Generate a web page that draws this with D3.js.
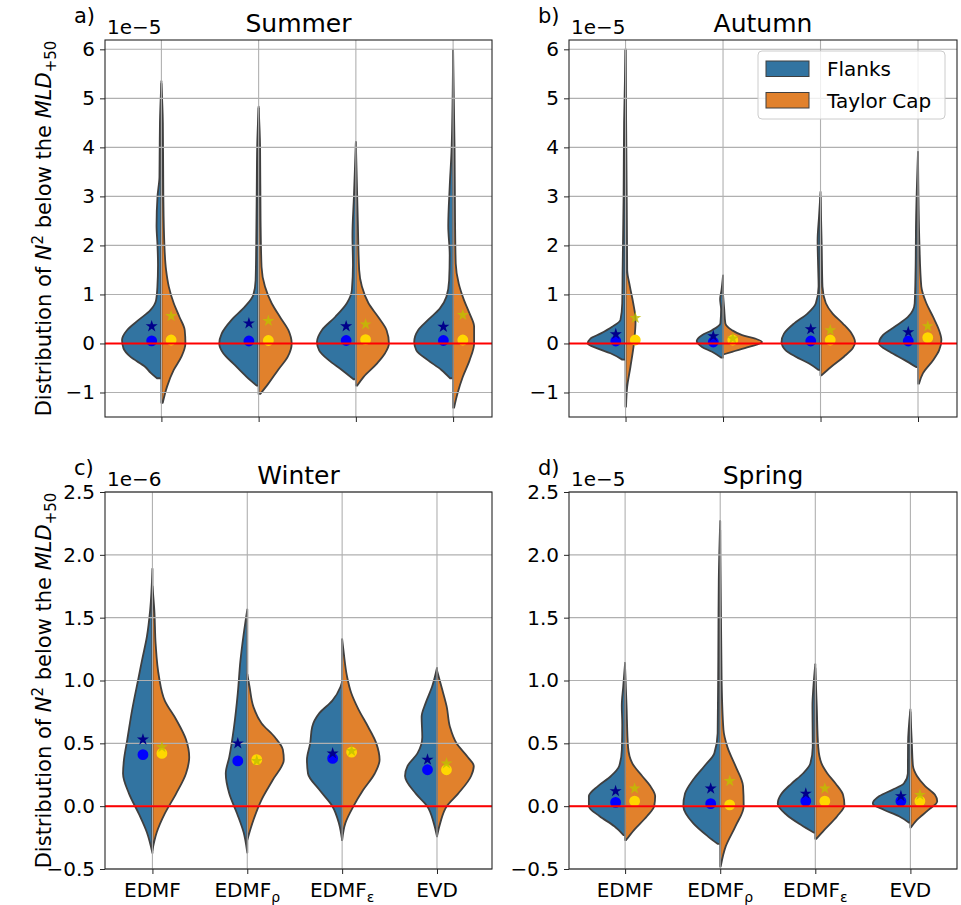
<!DOCTYPE html>
<html>
<head>
<meta charset="utf-8">
<script src="https://cdn.jsdelivr.net/npm/d3@7"></script>
<style>
  body { margin: 0; background: #fff; }
  text { font-family: "DejaVu Sans", sans-serif; fill: #000; }
</style>
</head>
<body>
<script>
var width = 961,
    height = 905;

// categories and groups
var categories = ["EDMF", "EDMF_ρ", "EDMF_ε", "EVD"];
var groups = ["Flanks", "Taylor Cap"];
var groupColors = ["#3274a1", "#e1812c"];

// y ticks (in units of the offset)
var ticksTop = [-1, 0, 1, 2, 3, 4, 5, 6];
var ticksBottom = [-0.5, 0, 0.5, 1, 1.5, 2, 2.5];

// violin profiles : [value, half width (category units)], bottom -> top
var summerFlanks = [
  [[-0.71,0.045],[-0.6,0.11],[-0.48,0.165],[-0.27,0.32],[-0.1,0.39],[0.07,0.405],[0.27,0.354],[0.48,0.234],[0.68,0.113],[0.88,0.055],[1.16,0.041],[1.6,0.035],[2.0,0.04],[2.4,0.05],[3.0,0.04],[3.4,0.02],[4.5,0.015],[5.35,0]],
  [[-0.86,0.02],[-0.68,0.124],[-0.41,0.26],[-0.2,0.364],[0,0.405],[0.2,0.38],[0.48,0.278],[0.75,0.141],[0.99,0.055],[1.29,0.031],[2.0,0.025],[3.0,0.02],[4.0,0.015],[4.83,0]],
  [[-0.73,0.024],[-0.54,0.144],[-0.34,0.28],[-0.14,0.378],[0.03,0.4],[0.27,0.35],[0.54,0.213],[0.82,0.093],[1.09,0.041],[1.6,0.03],[2.2,0.035],[3.0,0.02],[4.11,0]],
  [[-0.71,0.03],[-0.54,0.12],[-0.34,0.26],[-0.14,0.378],[0.03,0.4],[0.27,0.36],[0.48,0.258],[0.71,0.137],[0.95,0.069],[1.29,0.041],[1.8,0.035],[2.4,0.05],[3.2,0.035],[4.0,0.015],[5.99,0]]
];
var summerCap = [
  [[-1.21,0.014],[-0.88,0.058],[-0.54,0.127],[-0.27,0.206],[0,0.247],[0.27,0.24],[0.54,0.186],[0.82,0.127],[1.16,0.076],[1.5,0.048],[2.0,0.031],[3.0,0.02],[4.5,0.015],[5.3,0]],
  [[-1.03,0.017],[-0.82,0.1],[-0.54,0.2],[-0.27,0.3],[0,0.34],[0.27,0.306],[0.54,0.22],[0.82,0.134],[1.16,0.065],[1.56,0.03],[2.5,0.02],[4.0,0.015],[4.8,0]],
  [[-0.86,0.014],[-0.68,0.08],[-0.41,0.216],[-0.2,0.3],[0,0.34],[0.27,0.316],[0.54,0.23],[0.82,0.13],[1.16,0.062],[1.5,0.034],[2.5,0.02],[4.1,0]],
  [[-1.31,0.01],[-1.02,0.045],[-0.68,0.1],[-0.34,0.17],[0,0.216],[0.34,0.216],[0.61,0.17],[0.88,0.113],[1.22,0.058],[1.63,0.027],[2.5,0.02],[4.0,0.015],[5.97,0]]
];
var autumnFlanks = [
  [[-0.33,0.034],[-0.2,0.155],[-0.1,0.29],[0,0.388],[0.1,0.36],[0.2,0.258],[0.34,0.137],[0.48,0.052],[0.82,0.034],[1.5,0.03],[3.0,0.02],[4.5,0.015],[6.0,0]],
  [[-0.29,0.017],[-0.17,0.113],[-0.07,0.216],[0.05,0.27],[0.17,0.216],[0.27,0.113],[0.41,0.027],[0.7,0.02],[0.9,0.03],[1.1,0.015],[1.39,0]],
  [[-0.54,0.02],[-0.41,0.117],[-0.27,0.254],[-0.14,0.357],[0.03,0.4],[0.2,0.375],[0.41,0.27],[0.61,0.134],[0.82,0.048],[1.16,0.02],[1.6,0.025],[2.1,0.03],[2.6,0.015],[3.09,0]],
  [[-0.48,0.02],[-0.34,0.137],[-0.17,0.29],[0,0.4],[0.17,0.36],[0.34,0.24],[0.54,0.103],[0.82,0.034],[1.5,0.025],[2.5,0.02],[3.91,0]]
];
var autumnCap = [
  [[-1.29,0.005],[-0.88,0.017],[-0.48,0.05],[0,0.086],[0.48,0.103],[0.82,0.079],[1.16,0.045],[1.5,0.017],[3.0,0.012],[6.0,0]],
  [[-0.22,0.01],[-0.17,0.093],[-0.07,0.265],[0.03,0.4],[0.1,0.33],[0.17,0.196],[0.27,0.093],[0.41,0.024],[0.7,0.012],[1.0,0]],
  [[-0.65,0.01],[-0.48,0.107],[-0.27,0.24],[-0.1,0.33],[0.03,0.354],[0.2,0.32],[0.41,0.227],[0.61,0.124],[0.82,0.055],[1.16,0.02],[2.0,0.012],[3.0,0]],
  [[-0.82,0.01],[-0.61,0.05],[-0.34,0.155],[-0.14,0.216],[0.07,0.24],[0.27,0.216],[0.54,0.155],[0.82,0.086],[1.16,0.034],[2.0,0.015],[3.9,0]]
];
var winterFlanks = [
  [[-0.373,0],[-0.21,0.058],[-0.06,0.144],[0.1,0.247],[0.26,0.31],[0.37,0.30],[0.53,0.265],[0.77,0.213],[1.03,0.144],[1.16,0.11],[1.35,0.058],[1.56,0.024],[1.89,0]],
  [[-0.37,0],[-0.21,0.038],[-0.06,0.107],[0.1,0.19],[0.26,0.227],[0.39,0.19],[0.63,0.14],[0.9,0.1],[1.16,0.072],[1.37,0.038],[1.565,0]],
  [[-0.27,0],[-0.135,0.034],[0,0.103],[0.13,0.24],[0.26,0.36],[0.37,0.371],[0.5,0.337],[0.63,0.316],[0.74,0.24],[0.84,0.103],[0.95,0.017],[0.99,0]],
  [[-0.24,0],[-0.135,0.034],[0,0.103],[0.1,0.223],[0.24,0.337],[0.32,0.31],[0.42,0.206],[0.55,0.155],[0.71,0.162],[0.82,0.12],[0.95,0.052],[1.1,0]]
];
var winterCap = [
  [[-0.35,0],[-0.21,0.045],[-0.06,0.13],[0.1,0.25],[0.26,0.354],[0.39,0.388],[0.53,0.354],[0.69,0.25],[0.84,0.13],[1.03,0.069],[1.29,0.034],[1.56,0.02],[1.75,0]],
  [[-0.27,0],[-0.11,0.065],[0.05,0.15],[0.21,0.27],[0.37,0.385],[0.45,0.375],[0.55,0.289],[0.66,0.15],[0.79,0.065],[0.95,0.024],[1.05,0]],
  [[-0.27,0],[-0.135,0.034],[0,0.12],[0.13,0.223],[0.26,0.344],[0.37,0.395],[0.5,0.36],[0.63,0.275],[0.77,0.172],[0.9,0.096],[1.03,0.052],[1.22,0.017],[1.33,0]],
  [[-0.24,0],[-0.135,0.034],[0,0.103],[0.1,0.223],[0.24,0.36],[0.32,0.388],[0.39,0.326],[0.5,0.206],[0.63,0.137],[0.79,0.103],[0.92,0.058],[1.08,0]]
];
var springFlanks = [
  [[-0.23,0.017],[-0.16,0.113],[-0.08,0.268],[0,0.381],[0.08,0.381],[0.16,0.285],[0.24,0.148],[0.32,0.062],[0.45,0.034],[0.65,0.03],[0.8,0.035],[0.95,0.02],[1.14,0]],
  [[-0.3,0.027],[-0.24,0.13],[-0.135,0.285],[0,0.388],[0.1,0.37],[0.21,0.285],[0.32,0.165],[0.42,0.062],[0.58,0.027],[1.2,0.02],[1.8,0.015],[2.27,0]],
  [[-0.21,0.017],[-0.15,0.148],[-0.07,0.3],[0.02,0.395],[0.1,0.354],[0.18,0.25],[0.26,0.13],[0.34,0.052],[0.47,0.027],[0.8,0.03],[0.95,0.02],[1.13,0]],
  [[-0.13,0.017],[-0.08,0.12],[-0.03,0.275],[0.02,0.395],[0.08,0.326],[0.13,0.19],[0.18,0.069],[0.26,0.027],[0.5,0.025],[0.77,0]]
];
var springCap = [
  [[-0.27,0.01],[-0.19,0.093],[-0.08,0.23],[0,0.306],[0.08,0.316],[0.16,0.265],[0.24,0.179],[0.34,0.076],[0.47,0.031],[0.8,0.015],[1.1,0]],
  [[-0.48,0.005],[-0.32,0.058],[-0.16,0.16],[0,0.247],[0.16,0.24],[0.32,0.16],[0.47,0.076],[0.61,0.034],[1.0,0.015],[2.2,0]],
  [[-0.26,0.01],[-0.19,0.093],[-0.08,0.23],[0.01,0.306],[0.09,0.292],[0.18,0.213],[0.26,0.127],[0.34,0.065],[0.47,0.031],[0.8,0.015],[1.1,0]],
  [[-0.17,0.005],[-0.11,0.069],[-0.03,0.19],[0.04,0.282],[0.09,0.258],[0.16,0.155],[0.24,0.069],[0.32,0.027],[0.5,0.015],[0.75,0]]
];

// markers (circle / star) per category
var summerFlankDot = [0.054, 0.05, 0.06, 0.06];
var summerFlankStar = [0.35, 0.41, 0.35, 0.34];
var summerCapDot = [0.07, 0.06, 0.08, 0.07];
var summerCapStar = [0.56, 0.46, 0.39, 0.58];
var autumnFlankDot = [0.05, 0.03, 0.05, 0.05];
var autumnFlankStar = [0.19, 0.15, 0.29, 0.23];
var autumnCapDot = [0.07, 0.07, 0.07, 0.12];
var autumnCapStar = [0.52, 0.1, 0.27, 0.35];
var winterFlankDot = [0.41, 0.36, 0.38, 0.29];
var winterFlankStar = [0.53, 0.5, 0.42, 0.37];
var winterCapDot = [0.42, 0.37, 0.43, 0.29];
var winterCapStar = [0.47, 0.36, 0.44, 0.34];
var springFlankDot = [0.03, 0.02, 0.04, 0.04];
var springFlankStar = [0.12, 0.14, 0.1, 0.08];
var springCapDot = [0.04, 0.01, 0.04, 0.04];
var springCapStar = [0.14, 0.2, 0.14, 0.09];

var panels = [
  {letter: "a)", title: "Summer", offset: "1e\u22125", flanks: summerFlanks, cap: summerCap,
   fDot: summerFlankDot, fStar: summerFlankStar, cDot: summerCapDot, cStar: summerCapStar,
   x0: 105, x1: 492, y0: 40, y1: 417, xdom: [-0.58, 3.4], ydom: [-1.5, 6.19], ticks: ticksTop, fmt: d3.format("d"), labels: false, ylab: true},
  {letter: "b)", title: "Autumn", offset: "1e\u22125", flanks: autumnFlanks, cap: autumnCap,
   fDot: autumnFlankDot, fStar: autumnFlankStar, cDot: autumnCapDot, cStar: autumnCapStar,
   x0: 569, x1: 957, y0: 40, y1: 417, xdom: [-0.58, 3.4], ydom: [-1.5, 6.19], ticks: ticksTop, fmt: d3.format("d"), labels: false, ylab: false, legend: true},
  {letter: "c)", title: "Winter", offset: "1e\u22126", flanks: winterFlanks, cap: winterCap,
   fDot: winterFlankDot, fStar: winterFlankStar, cDot: winterCapDot, cStar: winterCapStar,
   x0: 105, x1: 492, y0: 492, y1: 869, xdom: [-0.5, 3.58], ydom: [-0.5, 2.5], ticks: ticksBottom, fmt: d3.format(".1f"), labels: true, ylab: true},
  {letter: "d)", title: "Spring", offset: "1e\u22125", flanks: springFlanks, cap: springCap,
   fDot: springFlankDot, fStar: springFlankStar, cDot: springCapDot, cStar: springCapStar,
   x0: 569, x1: 957, y0: 492, y1: 869, xdom: [-0.59, 3.49], ydom: [-0.5, 2.5], ticks: ticksBottom, fmt: d3.format(".1f"), labels: true, ylab: false}
];

var svg = d3.select("body").append("svg")
    .attr("width", width)
    .attr("height", height);

var star = d3.symbol().type(d3.symbolStar).size(45);
var circle = d3.symbol().type(d3.symbolCircle).size(92);

function minus(s) { return s.replace("-", "\u2212"); }

panels.forEach(function (p) {
    var g = svg.append("g");
    var x = d3.scaleLinear().domain(p.xdom).range([p.x0, p.x1]);
    var y = d3.scaleLinear().domain(p.ydom).range([p.y1, p.y0]);

    g.append("rect").attr("x", p.x0).attr("y", p.y0)
        .attr("width", p.x1 - p.x0).attr("height", p.y1 - p.y0).attr("fill", "#fff");

    // violins
    var line = d3.line().curve(d3.curveMonotoneY);
    [p.flanks, p.cap].forEach(function (series, k) {
        var side = k == 0 ? -1 : 1;
        series.forEach(function (prof, i) {
            var pts = prof.map(function (d) { return [x(i + side * d[1]), y(d[0])]; });
            var path = "M" + x(i) + "," + y(prof[0][0]) + "L" + line(pts).slice(1) +
                "L" + x(i) + "," + y(prof[prof.length - 1][0]) + "Z";
            g.append("path").attr("d", path)
                .attr("fill", groupColors[k])
                .attr("stroke", "#3f3f3f")
                .attr("stroke-width", 1.8)
                .attr("stroke-linejoin", "round");
        });
    });

    // grid (drawn above the violins like matplotlib)
    g.selectAll(".gy").data(p.ticks).join("line")
        .attr("x1", p.x0).attr("x2", p.x1)
        .attr("y1", d => y(d)).attr("y2", d => y(d))
        .attr("stroke", "#b0b0b0").attr("stroke-width", 1.1);
    g.selectAll(".gx").data(categories).join("line")
        .attr("x1", (d, i) => x(i)).attr("x2", (d, i) => x(i))
        .attr("y1", p.y0).attr("y2", p.y1)
        .attr("stroke", "#b0b0b0").attr("stroke-width", 1.1);

    // markers
    function dots(vals, dx, col, sym, op) {
        g.selectAll(null).data(vals).join("path")
            .attr("d", sym)
            .attr("transform", (d, i) => "translate(" + x(i + dx) + "," + y(d) + ")")
            .attr("fill", col).attr("fill-opacity", op);
    }
    dots(p.fDot, -0.1, "#0000ff", circle, 1);
    dots(p.cDot, 0.1, "#ffd700", circle, 1);
    dots(p.fStar, -0.1, "#00008b", star, 1);
    dots(p.cStar, 0.1, "#bfbf00", star, 0.8);

    // zero line
    g.append("line").attr("x1", p.x0).attr("x2", p.x1)
        .attr("y1", y(0)).attr("y2", y(0))
        .attr("stroke", "red").attr("stroke-width", 2);

    // frame
    g.append("rect").attr("x", p.x0).attr("y", p.y0)
        .attr("width", p.x1 - p.x0).attr("height", p.y1 - p.y0)
        .attr("fill", "none").attr("stroke", "#262626").attr("stroke-width", 1.1);

    // y axis
    var ya = g.append("g").attr("transform", "translate(" + p.x0 + ",0)")
        .call(d3.axisLeft(y).tickValues(p.ticks).tickSize(5).tickPadding(5)
            .tickFormat(d => minus(p.fmt(d))));
    ya.select(".domain").remove();
    ya.selectAll("text").style("font-size", "20px").style("font-family", "DejaVu Sans");
    ya.selectAll("line").attr("stroke", "#262626");

    // x ticks
    var xa = g.append("g").attr("transform", "translate(0," + p.y1 + ")")
        .call(d3.axisBottom(x).tickValues([0, 1, 2, 3]).tickSize(5).tickFormat(""));
    xa.select(".domain").remove();
    xa.selectAll("line").attr("stroke", "#262626");

    if (p.labels) {
        categories.forEach(function (c, i) {
            var parts = c.split("_");
            var t = g.append("text").attr("x", x(i)).attr("y", p.y1 + 28)
                .attr("text-anchor", "middle").style("font-size", "20px");
            t.append("tspan").text(parts[0]);
            if (parts[1]) {
                t.append("tspan").attr("dy", 5).style("font-size", "14px").text(parts[1]);
            }
        });
    }

    // titles
    svg.append("text").attr("x", (p.x0 + p.x1) / 2).attr("y", p.y0 - 8)
        .attr("text-anchor", "middle").style("font-size", "25px").text(p.title);
    svg.append("text").attr("x", p.x0 - 31).attr("y", p.y0 - 17)
        .style("font-size", "21px").text(p.letter);
    svg.append("text").attr("x", p.x0 + 2).attr("y", p.y0 - 6)
        .style("font-size", "20px").text(p.offset);

    if (p.ylab) {
        var yl = svg.append("text")
            .attr("transform", "translate(51," + (p.y0 + p.y1) / 2 + ") rotate(-90)")
            .attr("text-anchor", "middle").style("font-size", "21px");
        yl.append("tspan").text("Distribution of ");
        yl.append("tspan").style("font-style", "italic").text("N");
        yl.append("tspan").attr("dy", -8).style("font-size", "15px").text("2");
        yl.append("tspan").attr("dy", 8).text(" below the ");
        yl.append("tspan").style("font-style", "italic").text("MLD");
        yl.append("tspan").attr("dy", 5).style("font-size", "15px").text("+50");
    }

    if (p.legend) {
        var lg = svg.append("g");
        lg.append("rect").attr("x", 758).attr("y", 51).attr("width", 187).attr("height", 68)
            .attr("rx", 4).attr("fill", "#fff").attr("fill-opacity", 0.8)
            .attr("stroke", "#cccccc");
        groups.forEach(function (name, k) {
            lg.append("rect").attr("x", 766).attr("y", 61 + k * 31.5)
                .attr("width", 43).attr("height", 15.5)
                .attr("fill", groupColors[k]).attr("stroke", "#3f3f3f").attr("stroke-width", 1);
            lg.append("text").attr("x", 827).attr("y", 76 + k * 31.5)
                .style("font-size", "20px").text(name);
        });
    }
});
</script>
</body>
</html>
